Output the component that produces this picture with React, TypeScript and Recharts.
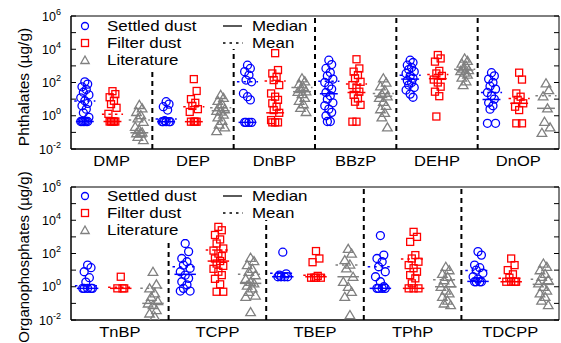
import React from 'react';
import { ScatterChart, Scatter, XAxis, YAxis, ReferenceLine, ReferenceArea, Legend } from 'recharts';

const FONT = '"Liberation Sans", Arial, Helvetica, sans-serif';
const BLUE = '#0000ff';
const RED = '#ff0000';
const GRAY = '#808080';

const seriesNames = ['Settled dust', 'Filter dust', 'Literature'];
const statNames = ['Median', 'Mean'];
const yTicks = [0.01, 0.1, 1, 10, 100, 1000, 10000, 100000, 1000000];

// ---------- Phthalates ----------
const topCategories = ['DMP', 'DEP', 'DnBP', 'BBzP', 'DEHP', 'DnOP'];
const topSettled = [
  [110, 80, 55, 38, 26, 18, 12, 8, 5.5, 4, 2.5, 1.5, 0.8, 0.45, 0.45, 0.45, 0.45, 0.45, 0.45],
  [7, 5, 3.5, 2.2, 0.5, 0.44, 0.44, 0.44, 0.44, 0.44],
  [1100, 700, 450, 280, 140, 110, 22, 14, 9, 0.4, 0.4, 0.4, 0.4],
  [2200, 1200, 700, 400, 250, 160, 100, 60, 40, 25, 16, 10, 6, 4, 2.5, 1.6, 1, 0.45, 0.45],
  [2200, 1600, 1100, 800, 600, 450, 350, 250, 180, 130, 100, 70, 50, 35, 20, 13],
  [390, 250, 160, 100, 60, 40, 25, 16, 10, 6, 4, 2.5, 0.35, 0.35],
];
const topFilter = [
  [30, 20, 13, 8, 5, 3, 1.3, 0.45, 0.45, 0.45, 0.45, 0.45],
  [160, 31, 10, 6, 3.9, 2.5, 1.7, 0.44, 0.44, 0.44, 0.44],
  [5800, 560, 350, 220, 140, 70, 22, 14, 9, 5.6, 3.5, 2.2, 1.5, 0.55, 0.4, 0.4, 0.4],
  [2500, 700, 450, 280, 180, 110, 70, 45, 28, 18, 11, 7, 4.5, 0.44, 0.44],
  [4500, 2800, 1800, 500, 350, 250, 150, 100, 56, 28, 15, 0.9],
  [390, 150, 22, 14, 9, 5.6, 3.5, 2.2, 0.35, 0.35],
];
const topLiterature = [
  [4.5, 2.8, 1.7, 1.1, 0.7, 0.44, 0.22, 0.14, 0.1, 0.09, 0.087, 0.055, 0.035],
  [18, 12, 8, 5, 3.5, 2.5, 2, 1.8, 1.2, 0.8, 0.5, 0.3, 0.2, 0.12],
  [180, 120, 80, 55, 40, 30, 28, 20, 12, 8, 5, 3, 1.7],
  [180, 100, 60, 35, 20, 15, 12, 7, 4, 2.5, 1.5, 0.8, 0.2],
  [2800, 2000, 1400, 1000, 700, 560, 500, 400, 300, 200, 120, 70],
  [90, 35, 15, 2.8, 0.44, 0.2, 0.095],
];
const topSettledMedian = [0.45, 0.44, 0.4, 21, 160, 9.5];
const topSettledMean = [7.8, 0.63, 110, 120, 270, 25];
const topFilterMedian = [0.45, 0.44, 1.5, 25, 170, 5.6];
const topFilterMean = [1.25, 3.5, 125, 80, 300, 11];
const topLitMedian = [0.095, 2, 28, 15, 560, 2.8];
const topLitMean = [0.55, 3, 50, 22, 620, 16];

// ---------- Organophosphates ----------
const bottomCategories = ['TnBP', 'TCPP', 'TBEP', 'TPhP', 'TDCPP'];
const bottomSettled = [
  [20, 14, 8, 3.5, 1.9, 0.8, 0.8, 0.8, 0.8, 0.8],
  [400, 130, 50, 32, 20, 13, 8, 5, 3.2, 2, 1.3, 0.8, 0.55, 0.55],
  [120, 6, 5, 4, 4, 4, 4],
  [1200, 80, 50, 32, 16, 8, 4, 2, 1, 0.8, 0.8, 0.8, 0.8],
  [130, 80, 20, 14, 10, 6.5, 4, 2.9, 2, 2, 2, 2],
];
const bottomFilter = [
  [4, 0.8, 0.8, 0.8],
  [4000, 2500, 1300, 700, 400, 200, 150, 100, 70, 50, 35, 25, 18, 12, 8, 5, 3, 1.4, 0.5, 0.5],
  [140, 50, 30, 4.5, 3.5, 3.5, 3.5, 3.5],
  [2000, 1000, 500, 80, 50, 32, 20, 13, 8, 5, 3.2, 1.6, 0.8, 0.8, 0.8],
  [50, 20, 10, 5.6, 3.5, 2, 2, 2, 2],
];
const bottomLiterature = [
  [8, 1.4, 0.8, 0.4, 0.25, 0.14, 0.1, 0.08, 0.04, 0.025, 0.016],
  [56, 35, 20, 12, 8, 5, 3, 2, 1.6, 1.2, 0.8, 0.5, 0.3, 0.25, 0.03],
  [190, 100, 40, 22, 13, 4, 2, 1, 0.5, 0.25, 0.02],
  [16, 10, 6, 4, 2.5, 1.6, 1, 0.6, 0.4, 0.25, 0.15, 0.1, 0.08],
  [25, 16, 10, 6, 4, 2.5, 1.6, 1, 0.6, 0.4, 0.25, 0.15, 0.08],
];
const bottomSettledMedian = [0.8, 5.6, 4, 0.8, 2.1];
const bottomSettledMean = [1.15, 16, 6.5, 16, 9.5];
const bottomFilterMedian = [0.8, 35, 4, 0.8, 2];
const bottomFilterMean = [0.93, 160, 5, 47, 3.2];
const bottomLitMedian = [0.1, 1.6, 4, 1, 1.4];
const bottomLitMean = [0.8, 5.6, 20, 2.6, 2.8];

// layout helpers (positions within a category, in category units)
const SLOTS = [0.17, 0.51, 0.84];
const JITTER = [0, 0.035, -0.035, 0.018, -0.018, 0.05, -0.05];
const PLOT_LEFT = 71;
const PLOT_RIGHT = 559;

const build = (values: number[][], slot: number) =>
  values.flatMap((arr, i) =>
    arr.map((v, j) => ({ x: i + SLOTS[slot] + JITTER[j % JITTER.length], y: v }))
  );

const CircleShape = (p: any) => (
  <circle cx={p.cx} cy={p.cy} r={4} fill="none" stroke={BLUE} strokeWidth={1.3} />
);
const SquareShape = (p: any) => (
  <rect x={p.cx - 3.5} y={p.cy - 3.5} width={7} height={7} fill="none" stroke={RED} strokeWidth={1.3} />
);
const TriangleShape = (p: any) => (
  <polygon
    points={`${p.cx},${p.cy - 4.5} ${p.cx - 4.8},${p.cy + 3.6} ${p.cx + 4.8},${p.cy + 3.6}`}
    fill="none"
    stroke={GRAY}
    strokeWidth={1.3}
  />
);

const YTick = (props: any) => {
  const { x, y, payload } = props;
  const exp = Math.round(Math.log10(payload.value));
  return (
    <g>
      <line x1={x} x2={x + 5} y1={y} y2={y} stroke="#000" strokeWidth={1} />
      <line x1={PLOT_RIGHT - 5} x2={PLOT_RIGHT} y1={y} y2={y} stroke="#000" strokeWidth={1} />
      {exp % 2 === 0 && (
        <text x={x - 10} y={y + 4.5} textAnchor="end" fontSize={12.5} fill="#000" fontFamily={FONT}>
          10
          <tspan dy={-6} fontSize={9}>{String(exp)}</tspan>
        </text>
      )}
    </g>
  );
};

const makeXTick = (cats: string[]) => (props: any) => {
  const { x, y, payload } = props;
  const label = cats[Math.floor(payload.value)];
  return (
    <g transform={`translate(${x},${y})`}>
      <text transform="scale(1.18,1)" y={17} textAnchor="middle" fontSize={14} fill="#000" fontFamily={FONT}>
        {label}
      </text>
    </g>
  );
};

const LegendBox = ({ top }: { top: number }) => (
  <svg width={561} height={80} style={{ display: 'block', fontFamily: FONT }}>
    {/* legend backgrounds (white, borderless) */}
    <rect x={77} y={top + 1} width={127} height={69 - (top + 1)} fill="#fff" />
    <rect x={214} y={top + 1} width={97} height={32} fill="#fff" />
    <circle cx={85} cy={26} r={3.5} fill="none" stroke={BLUE} strokeWidth={1.3} />
    <text transform="translate(107,31) scale(1.21,1)" fontSize={14} fill="#000">{seriesNames[0]}</text>
    <rect x={81.5} y={39.5} width={7} height={7} fill="none" stroke={RED} strokeWidth={1.3} />
    <text transform="translate(107,48) scale(1.21,1)" fontSize={14} fill="#000">{seriesNames[1]}</text>
    <polygon points="85,56 80.8,63.5 89.2,63.5" fill="none" stroke={GRAY} strokeWidth={1.3} />
    <text transform="translate(107,65) scale(1.21,1)" fontSize={14} fill="#000">{seriesNames[2]}</text>
    <line x1={223} x2={242} y1={26} y2={26} stroke="#000" strokeWidth={1.3} />
    <text transform="translate(252,31) scale(1.21,1)" fontSize={14} fill="#000">{statNames[0]}</text>
    <line x1={223} x2={243} y1={43} y2={43} stroke="#000" strokeWidth={1.3} strokeDasharray="2.5 4" />
    <text transform="translate(252,48) scale(1.21,1)" fontSize={14} fill="#000">{statNames[1]}</text>
  </svg>
);

type PanelProps = {
  categories: string[];
  settled: number[][];
  filter: number[][];
  literature: number[][];
  medians: number[][];
  means: number[][];
  yLabel: string;
  labelSize: number;
  height: number;
  top: number;
  xAxisHeight: number;
  labelY: number;
};

const Panel = ({ categories, settled, filter, literature, medians, means, yLabel, labelSize, height, top, xAxisHeight, labelY }: PanelProps) => {
  const n = categories.length;
  const catTicks = categories.map((_, i) => i + 0.5);
  const separators = categories.slice(1).map((_, i) => i + 1);
  const colors = [BLUE, RED, GRAY];
  const XTick = makeXTick(categories);
  return (
    <ScatterChart
      width={561}
      height={height}
      margin={{ top, right: 2, bottom: 0, left: 0 }}
      style={{ fontFamily: FONT }}
    >
      <XAxis
        type="number"
        dataKey="x"
        domain={[0, n]}
        ticks={catTicks}
        interval={0}
        allowDataOverflow
        tickLine={false}
        tickSize={0}
        tickMargin={0}
        height={xAxisHeight}
        axisLine={{ stroke: '#000' }}
        tick={<XTick />}
      />
      <YAxis
        type="number"
        dataKey="y"
        scale="log"
        domain={[0.01, 1000000]}
        ticks={yTicks}
        interval={0}
        allowDataOverflow
        width={PLOT_LEFT}
        tickLine={false}
        tickSize={0}
        tickMargin={0}
        axisLine={{ stroke: '#000' }}
        tick={<YTick />}
        label={{
          content: () => (
            <text
              x={28.5}
              y={labelY}
              transform={`rotate(-90, 28.5, ${labelY})`}
              textAnchor="middle"
              fontSize={labelSize}
              fill="#000"
              fontFamily={FONT}
            >
              {yLabel}
            </text>
          ),
        }}
      />
      <ReferenceArea x1={0} x2={n} y1={0.01} y2={1000000} fill="none" stroke="#000" strokeWidth={1} ifOverflow="visible" />
      {separators.map((s) => (
        <ReferenceLine key={`sep${s}`} x={s} stroke="#000" strokeWidth={2} strokeDasharray="5 4" />
      ))}
      <Scatter data={build(settled, 0)} shape={CircleShape} isAnimationActive={false} />
      <Scatter data={build(filter, 1)} shape={SquareShape} isAnimationActive={false} />
      <Scatter data={build(literature, 2)} shape={TriangleShape} isAnimationActive={false} />
      {medians.flatMap((arr, s) =>
        arr.map((v, i) => (
          <ReferenceLine
            key={`med${s}-${i}`}
            segment={[
              { x: i + SLOTS[s] - 0.11, y: v },
              { x: i + SLOTS[s] + 0.11, y: v },
            ]}
            stroke={colors[s]}
            strokeWidth={1.5}
          />
        ))
      )}
      {means.flatMap((arr, s) =>
        arr.map((v, i) => (
          <ReferenceLine
            key={`mean${s}-${i}`}
            segment={[
              { x: i + SLOTS[s] - 0.13, y: v },
              { x: i + SLOTS[s] + 0.13, y: v },
            ]}
            stroke={colors[s]}
            strokeWidth={1.5}
            strokeDasharray="2.5 4"
          />
        ))
      )}
      <Legend
        layout="vertical"
        align="center"
        verticalAlign="middle"
        wrapperStyle={{ left: 0, top: 0, width: 561, height: 80, pointerEvents: 'none' }}
        content={() => <LegendBox top={top} />}
      />
    </ScatterChart>
  );
};

export default function App() {
  return (
    <div style={{ position: 'absolute', left: 0, top: 0, width: 561, height: 343, background: '#fff', fontFamily: FONT }}>
      <Panel
        categories={topCategories}
        settled={topSettled}
        filter={topFilter}
        literature={topLiterature}
        medians={[topSettledMedian, topFilterMedian, topLitMedian]}
        means={[topSettledMean, topFilterMean, topLitMean]}
        yLabel="Phthalates (µg/g)"
        labelSize={15.5}
        height={170}
        top={16}
        xAxisHeight={21}
        labelY={87}
      />
      <Panel
        categories={bottomCategories}
        settled={bottomSettled}
        filter={bottomFilter}
        literature={bottomLiterature}
        medians={[bottomSettledMedian, bottomFilterMedian, bottomLitMedian]}
        means={[bottomSettledMean, bottomFilterMean, bottomLitMean]}
        yLabel="Organophosphates (µg/g)"
        labelSize={15}
        height={173}
        top={17}
        xAxisHeight={23}
        labelY={87}
      />
    </div>
  );
}
